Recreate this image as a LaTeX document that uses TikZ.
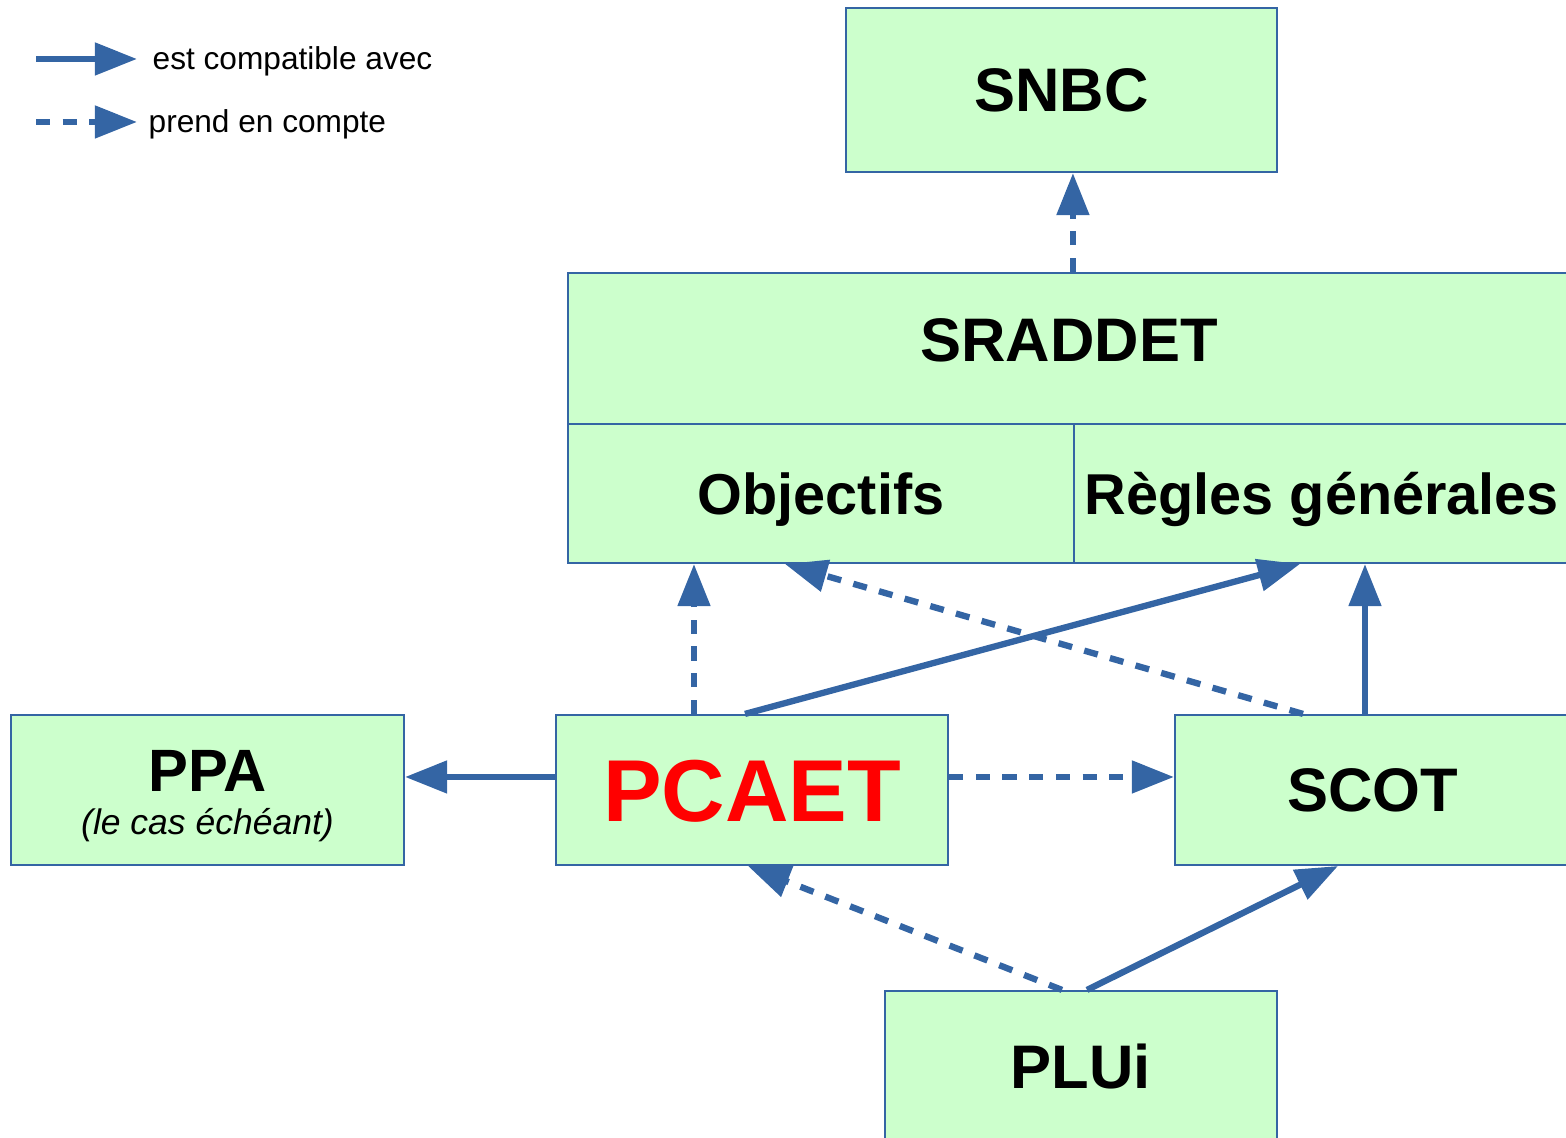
\documentclass[tikz,border=0pt]{standalone}
\usepackage{fontspec}
\setmainfont{Liberation Sans}
\usetikzlibrary{arrows.meta}
\definecolor{boxgreen}{HTML}{CCFFCC}
\definecolor{linkblue}{HTML}{3465A4}

\begin{document}
\begin{tikzpicture}[
    box/.style={draw=linkblue, line width=0.6pt, fill=boxgreen, inner sep=0pt,
      font=\bfseries\fontsize{17.5}{21}\selectfont, text height=12.5pt, text depth=0pt},
    compat/.style={draw=linkblue, line width=1.8pt, -{Triangle[length=12pt,width=9pt]}},
    takes/.style={compat, dash pattern=on 4pt off 3.6pt},
    legendtext/.style={font=\fontsize{9}{11}\selectfont, inner sep=0pt, anchor=base west}
  ]
  \useasboundingbox (0,0) rectangle (15.66,11.38);

  % Legend
  \coordinate (solidA) at (0.36,10.79);
  \coordinate (solidB) at (1.37,10.79);
  \coordinate (dashA) at (0.36,10.16);
  \coordinate (dashB) at (1.37,10.16);
  \draw[compat] (solidA) -- (solidB);
  \draw[takes] (dashA) -- (dashB);
  \node[legendtext] (compattext) at (1.52,10.68) {est compatible avec};
  \node[legendtext] (takestext) at (1.48,10.05) {prend en compte};

  % Define the boxes
  \node[box, minimum width=4.31cm, minimum height=1.64cm] (snbc) at (10.615,10.48) {SNBC};
  \node[box, minimum width=10.02cm, minimum height=1.51cm, text depth=5.1pt] (sraddet) at (10.69,7.895) {SRADDET};
  \node[box, minimum width=5.06cm, minimum height=1.39cm, font=\bfseries\fontsize{16.4}{20}\selectfont, text height=11.75pt] (obj) at (8.21,6.445) {Objectifs};
  \node[box, minimum width=4.96cm, minimum height=1.39cm, font=\bfseries\fontsize{16.4}{20}\selectfont, text height=11.75pt] (regles) at (13.22,6.445) {Règles générales};
  \node[box, minimum width=3.93cm, minimum height=1.5cm, font=\bfseries\fontsize{17}{20}\selectfont, text height=12.2pt, text depth=11.4pt] (ppa) at (2.075,3.48) {PPA};
  \node[anchor=base, inner sep=0pt, font=\itshape\fontsize{10.1}{12}\selectfont] (ppanote) at ([yshift=-0.43cm]ppa.base) {(le cas échéant)};
  \node[box, minimum width=3.92cm, minimum height=1.5cm, text=red, font=\bfseries\fontsize{25}{30}\selectfont, text height=17.9pt] (pcaet) at (7.52,3.48) {PCAET};
  \node[box, minimum width=3.95cm, minimum height=1.5cm] (scot) at (13.725,3.48) {SCOT};
  \node[box, minimum width=3.92cm, minimum height=1.52cm] (plui) at (10.81,0.71) {PLUi};

  % Draw the arrows
  \draw[takes] (sraddet.north -| regles.west) -- (snbc.south -| regles.west);
  \draw[takes] ([xshift=-0.58cm]pcaet.north) -- ([xshift=-0.58cm]pcaet.north |- obj.south);
  \draw[compat] ([xshift=-0.07cm]pcaet.north) -- ([xshift=-0.22cm]regles.south);
  \draw[takes] ([xshift=-0.695cm]scot.north) -- ([xshift=-0.36cm]obj.south);
  \draw[compat] ([xshift=-0.075cm]scot.north) -- ([xshift=-0.075cm]scot.north |- regles.south);
  \draw[compat] ([yshift=0.13cm]pcaet.west) -- ([yshift=0.13cm]pcaet.west -| ppa.east);
  \draw[takes] ([yshift=0.13cm]pcaet.east) -- ([yshift=0.13cm]pcaet.east -| scot.west);
  \draw[takes] ([xshift=-0.19cm]plui.north) -- ([xshift=-0.04cm]pcaet.south);
  \draw[compat] ([xshift=0.06cm]plui.north) -- ([xshift=-0.345cm]scot.south);

\end{tikzpicture}
\end{document}
